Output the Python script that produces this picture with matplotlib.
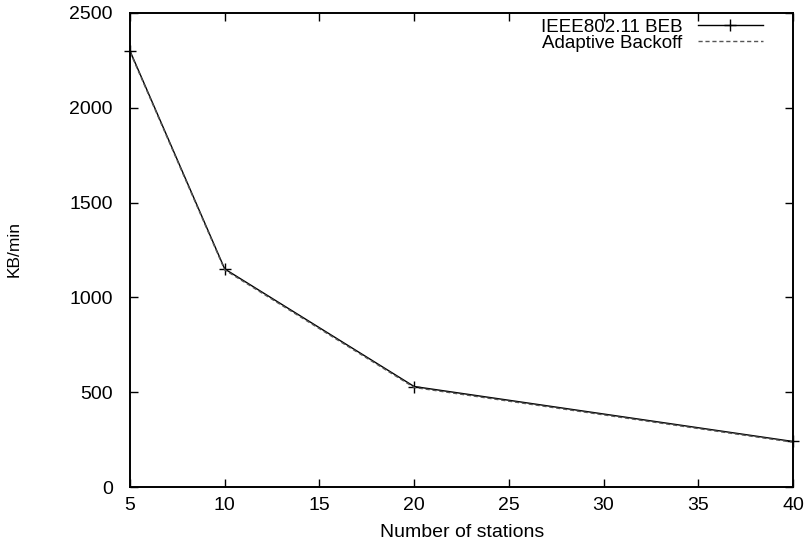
import matplotlib
matplotlib.use("Agg")
import matplotlib.pyplot as plt

stations = [5, 10, 20, 40]
beb = [2300, 1150, 530, 240]
adaptive = [2295, 1145, 525, 236]

x_ticks = [5, 10, 15, 20, 25, 30, 35, 40]
y_ticks = [0, 500, 1000, 1500, 2000, 2500]

plt.rcParams["font.family"] = ["Liberation Sans", "DejaVu Sans"]
plt.rcParams["font.size"] = 14

fig = plt.figure(figsize=(8.08, 5.41), dpi=100)
ax = fig.add_axes([130 / 808, 1 - 487 / 541, (793 - 130) / 808, (487 - 13) / 541])

ax.plot(stations, beb, color="black", lw=1.0, marker="+", markersize=8,
        markeredgewidth=1.0, label="IEEE802.11 BEB", clip_on=False)
ax.plot(stations, adaptive, color="#555555", lw=1.0, dashes=(3, 2),
        label="Adaptive Backoff", clip_on=False)

ax.set_xlim(5, 40)
ax.set_ylim(0, 2500)
ax.set_xticks(x_ticks)
ax.set_yticks(y_ticks)
ax.tick_params(axis="both", direction="in", top=True, right=True,
               length=6, width=1.0, labelsize=14)
ax.tick_params(axis="y", pad=12.5)
ax.tick_params(axis="x", pad=7)
for s in ax.spines.values():
    s.set_linewidth(1.4)

ax.set_xlabel("Number of stations")
ax.xaxis.set_label_coords(0.5015, -0.079)
ax.set_ylabel("KB/min", fontsize=12.5)
ax.yaxis.set_label_coords(-0.163, 0.502)

leg = ax.legend(loc="upper right", bbox_to_anchor=(0.955, 0.988), frameon=False,
                markerfirst=False, handlelength=3.5, handletextpad=0.8,
                labelspacing=-0.05, borderaxespad=0, borderpad=0, fontsize=13.5)

fig.savefig("out.png", dpi=100)
